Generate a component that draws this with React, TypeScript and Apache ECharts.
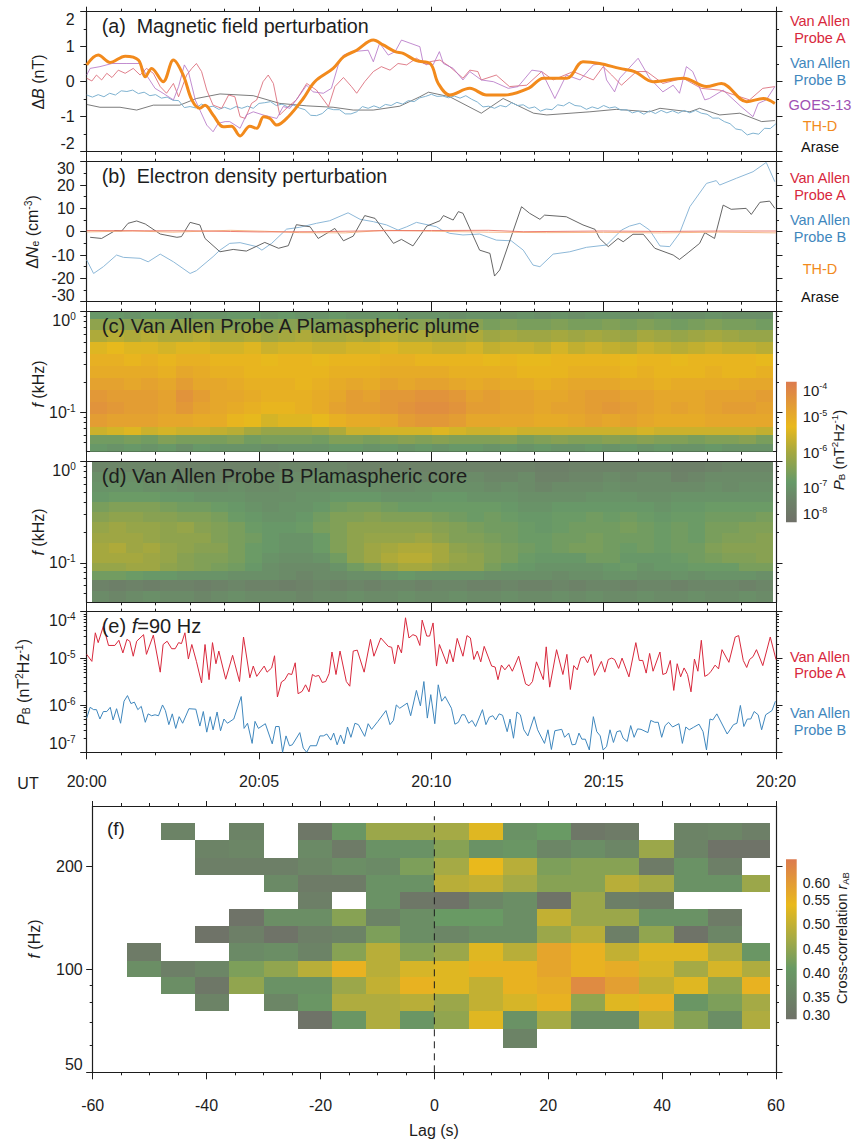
import React, { useEffect, useRef } from "react";
import * as echarts from "echarts";

const FONT = '"Liberation Sans", Arial, sans-serif';
const INK = "#1d1d1d";
const RED = "#d8283c";
const BLUE = "#3f87bd";
const PURPLE = "#a050b4";
const ORANGE = "#f28a1c";

// Panel (a): magnetic field perturbation [seconds after 20:00, nT]
const aRed = [[0,.1],[9,.02],[17,.19],[26,.05],[35,.24],[44,.12],[55,.33],[67,.24],[81,.38],[93,.19],[104,.38],[116,.24],[128,-.14],[139,-.33],[151,-.05],[160,-.43],[174,.19],[183,.38],[191,.52],[200,.29],[209,-.24],[220,-.67],[235,-.76],[247,-.38],[258,-.43],[267,-1],[276,-1.05],[287,-.62],[296,-.52],[307,0],[316,.19],[325,-.05],[336,-.95],[351,-.71],[365,-.52],[383,-.05],[400,-.24],[421,-.71],[432,-.14],[447,.12],[461,-.14],[470,-.33],[484,0],[499,.29],[513,.43],[528,.33],[542,.52],[557,.48],[574,.67],[592,.48],[597,.57],[615,.62],[632,.43],[655,.1],[667,.33],[681,.29],[687,.05],[713,.19],[736,-.14],[766,-.1],[792,.29],[812,.05],[847,.29],[882,.05],[899,.43],[914,.19],[931,-.1],[957,.29],[975,.29],[1003,-.05],[1038,.1],[1070,-.19],[1102,-.24],[1137,-.43],[1154,-.52],[1177,-.19],[1198,-.14]];
const aPurple = [[0,.19],[6,.38],[23,.43],[44,.52],[70,.52],[93,.52],[104,.19],[119,-.19],[133,-.33],[151,-.52],[160,-.14],[170,.48],[177,.29],[189,-.52],[197,-.81],[209,-1.24],[220,-1.43],[229,-1.19],[241,-1.14],[249,-1.14],[267,-1.33],[278,-.95],[290,-.86],[307,-.95],[331,-1.05],[342,-.71],[354,-.76],[371,-.38],[383,-.1],[394,-.29],[412,-.33],[426,-.19],[438,.48],[447,.76],[464,.86],[490,.9],[499,.57],[510,1.1],[525,.76],[537,.86],[548,1.19],[563,1.1],[580,1],[586,.52],[603,.48],[614,.86],[621,.52],[638,.38],[655,.05],[667,.29],[687,.05],[708,0],[734,-.19],[751,-.14],[775,.33],[792,.29],[815,-.48],[835,.19],[859,.05],[882,.48],[899,.52],[905,.05],[919,-.29],[928,.1],[960,.67],[980,.1],[1003,-.29],[1021,-.1],[1032,-.33],[1044,.43],[1055,.29],[1076,-.52],[1084,-.48],[1108,-.24],[1139,-.71],[1160,-1],[1169,-.62],[1183,-.52],[1198,-.14]];
const aBlack = [[0,-.65],[23,-.73],[58,-.73],[87,-.81],[116,-.67],[162,-.67],[191,-.48],[232,-.35],[290,-.4],[336,-.62],[383,-.69],[429,-.73],[464,-.81],[499,-.81],[545,-.7],[580,-.43],[595,-.3],[632,-.43],[687,-.9],[725,-.48],[778,-.9],[801,-.95],[876,-.86],[922,-.79],[980,-.86],[998,-.76],[1050,-.86],[1067,-.76],[1102,-.95],[1137,-.9],[1175,-1.14],[1198,-1.11]];
const aOrange = [[0,.48],[20,.76],[41,.55],[67,.73],[90,.62],[102,.14],[113,.38],[133,0],[151,.62],[168,.19],[183,-.52],[197,-.76],[206,-.67],[220,-.95],[238,-1.29],[252,-1.27],[267,-1.55],[284,-1.27],[296,-1.33],[308,-1],[319,-1.05],[331,-1.24],[351,-1],[377,-.48],[397,0],[429,.38],[447,.71],[470,.9],[499,1.19],[516,1.05],[537,.86],[551,.81],[574,.6],[598,.52],[612,-.05],[632,-.38],[667,-.19],[696,-.38],[728,-.38],[769,-.19],[795,.1],[836,.1],[864,.57],[893,.52],[928,.38],[954,.29],[986,0],[1039,.1],[1079,-.14],[1105,-.05],[1149,-.57],[1178,-.48],[1198,-.62]];
// One value every 10 s
const aBlueStep = 10;
const aBlue = [-.38,-.44,-.37,-.43,-.33,-.38,-.26,-.28,-.24,-.34,-.3,-.4,-.37,-.47,-.44,-.53,-.54,-.74,-.71,-.75,-.64,-.73,-.7,-.79,-.73,-.79,-.71,-.76,-.7,-.76,-.62,-.6,-.57,-.68,-.64,-.72,-.67,-.75,-.8,-.96,-.97,-.91,-.76,-.8,-.8,-.92,-.92,-.86,-.71,-.76,-.69,-.75,-.65,-.68,-.59,-.64,-.54,-.57,-.46,-.42,-.36,-.42,-.41,-.46,-.41,-.47,-.4,-.5,-.58,-.72,-.7,-.76,-.68,-.72,-.6,-.68,-.66,-.76,-.72,-.84,-.78,-.8,-.66,-.69,-.59,-.68,-.7,-.79,-.72,-.77,-.68,-.75,-.72,-.81,-.8,-.89,-.84,-.93,-.83,-.91,-.82,-.89,-.83,-.9,-.82,-.89,-.82,-.9,-.93,-1.04,-1.04,-1.14,-1.2,-1.35,-1.38,-1.52,-1.47,-1.5,-1.33,-1.34,-1.2];

// Panel (b): electron density perturbation [seconds, cm^-3]
const bBlue = [[0,-12.1],[12,-17.9],[29,-15],[52,-10],[64,-11],[93,-11.4],[107,-12.9],[128,-9.6],[151,-12.9],[180,-17.9],[191,-16.7],[220,-10.7],[232,-7.9],[249,-5],[267,-4.7],[296,-6.4],[305,-7.9],[322,-5],[348,1.1],[371,1.9],[400,3.6],[423,4.7],[455,8.1],[476,5.3],[499,4.3],[522,2.9],[542,.7],[557,2.1],[574,4],[609,2.1],[618,.7],[632,-.7],[655,-1.4],[684,-1],[713,-3.6],[739,-3.9],[760,-7.9],[777,-14.3],[789,-15],[812,-9.6],[841,-8.6],[870,-6.7],[905,-5.7],[931,.7],[945,2.4],[963,3.6],[980,.7],[998,-6.1],[1015,-6.4],[1032,-.7],[1050,10.7],[1079,20.7],[1096,21.9],[1102,20],[1131,22.9],[1160,25.7],[1183,29.7],[1198,21.4]];
const bBlack = [[6,-2.4],[26,-2.9],[49,.4],[61,.3],[72,3.6],[87,4.6],[102,3.3],[128,-1],[157,-2.4],[165,-2.1],[180,4],[197,2.9],[206,-2.9],[232,-8.6],[255,-7.6],[278,-8.3],[310,-4.6],[334,-7.1],[351,-6],[365,3],[389,2.1],[403,-2.9],[432,1.4],[447,-3.9],[464,-1.9],[484,6.9],[502,5.7],[534,-5],[548,-3.3],[568,-6.1],[592,2.4],[615,4.7],[621,6.9],[638,5],[647,8.6],[655,7.9],[684,-7.9],[702,-9.3],[710,-19],[719,-16.4],[757,10.7],[771,7.9],[789,5.3],[797,7.1],[835,6.4],[864,2.9],[885,1],[893,-2.9],[908,-6.4],[925,-2.9],[934,-4.3],[951,-1.1],[969,-1.1],[989,-7.1],[1021,-10],[1032,-11.9],[1047,-9],[1067,-5],[1076,-.4],[1093,-2.9],[1108,11.4],[1122,9.6],[1148,10],[1157,7.4],[1172,12.6],[1189,13.1],[1198,10]];
const bRed = [[0,.5],[100,.4],[180,.4],[250,.1],[300,-.1],[400,0],[500,.4],[600,.5],[700,.6],[760,0],[900,.3],[1000,.1],[1100,.3],[1200,.3]];
const bOrange = [[0,-.1],[80,.3],[150,-.2],[250,.6],[310,.2],[370,-.4],[450,-.5],[520,.6],[600,.2],[700,-.2],[800,-.4],[900,-.3],[1000,-.5],[1100,-.2],[1200,-.5]];

// Panel (e): f = 90 Hz power [seconds, log10 P]
const eRed = [[0,-4.91],[9,-5.06],[15,-4.45],[20,-4.66],[29,-4.31],[38,-4.72],[49,-4.72],[56,-4.61],[63,-4.88],[70,-4.59],[75,-4.63],[81,-4.95],[87,-4.63],[99,-4.49],[104,-4.91],[116,-4.5],[128,-5.29],[133,-4.7],[140,-4.63],[148,-4.79],[154,-4.79],[160,-4.66],[165,-4.68],[171,-4.45],[177,-5.01],[183,-4.7],[191,-5.06],[200,-5.52],[206,-4.7],[213,-5.45],[219,-4.66],[225,-5.11],[230,-4.84],[242,-5.44],[254,-4.93],[266,-5.49],[273,-4.54],[284,-5.41],[290,-5.16],[296,-5.38],[309,-5.16],[314,-5.29],[322,-5.2],[327,-4.94],[332,-5.82],[339,-5.5],[345,-5.45],[351,-5.32],[357,-5.34],[363,-5.09],[368,-5.75],[375,-5.7],[381,-5.56],[387,-5.71],[393,-5.34],[398,-5.38],[404,-5.36],[410,-5.51],[416,-5.49],[422,-5.32],[427,-4.86],[434,-5.34],[441,-4.84],[452,-5.49],[458,-5.59],[464,-4.84],[471,-4.82],[483,-5.29],[494,-4.59],[500,-4.95],[512,-4.56],[525,-4.74],[531,-4.76],[536,-5.11],[542,-4.71],[548,-4.88],[555,-4.13],[561,-4.56],[568,-4.49],[574,-4.52],[580,-4.72],[584,-4.18],[592,-4.52],[597,-4.52],[603,-4.24],[609,-5.16],[614,-4.7],[627,-5.11],[632,-4.81],[638,-5.07],[645,-4.57],[655,-4.95],[662,-4.51],[668,-4.56],[674,-5.02],[680,-4.84],[686,-5.07],[692,-4.74],[705,-5.16],[711,-5.18],[716,-5.45],[722,-5.14],[728,-5.24],[735,-5.13],[741,-5.27],[752,-4.95],[764,-5.54],[770,-5.58],[776,-5.49],[783,-5.07],[795,-5.45],[800,-4.75],[806,-5.61],[818,-4.81],[829,-5.34],[836,-4.91],[842,-5.66],[848,-5.15],[854,-5.24],[860,-4.99],[866,-4.96],[872,-5.09],[878,-4.91],[884,-5.36],[896,-5.06],[902,-5.29],[908,-5.02],[914,-4.99],[919,-5.02],[926,-5.21],[932,-4.99],[944,-5.39],[956,-4.66],[962,-5.04],[968,-5.04],[974,-5.31],[980,-4.89],[986,-5.27],[998,-4.86],[1003,-5.34],[1009,-5.31],[1016,-5.04],[1022,-5.68],[1028,-5.11],[1034,-5.39],[1040,-5.2],[1046,-5.34],[1052,-5.71],[1058,-5.01],[1064,-5.27],[1070,-4.61],[1076,-5.38],[1082,-5.34],[1087,-5.27],[1094,-5.14],[1100,-5.22],[1106,-4.81],[1118,-5.08],[1129,-4.54],[1135,-4.51],[1143,-5.04],[1149,-5.19],[1154,-5.02],[1160,-4.96],[1166,-4.81],[1177,-5.15],[1190,-4.54],[1200,-5.02]];
const eBlue = [[0,-6.27],[6,-6.04],[12,-6.09],[17,-6.09],[23,-6.29],[29,-6.13],[35,-6.13],[41,-6.04],[46,-6.31],[52,-6.07],[59,-6.38],[65,-5.91],[71,-5.79],[77,-5.96],[83,-5.93],[89,-6.09],[95,-6.02],[102,-6.36],[107,-6.18],[113,-6.22],[119,-6.2],[125,-6.22],[132,-5.99],[137,-6.11],[143,-6.41],[149,-6.18],[155,-6.49],[161,-6.24],[167,-6.38],[178,-6.07],[190,-6.08],[197,-6.44],[203,-6.13],[209,-6.57],[215,-6.24],[220,-6.52],[227,-6.14],[233,-6.54],[239,-6.29],[245,-6.38],[256,-6.29],[269,-5.81],[274,-6.49],[280,-6.38],[288,-6.81],[293,-6.34],[299,-6.49],[311,-6.39],[323,-6.82],[329,-6.45],[335,-6.45],[341,-7],[347,-6.65],[353,-6.86],[358,-6.84],[371,-6.58],[377,-6.91],[383,-7],[389,-6.86],[400,-6.86],[406,-6.65],[412,-6.65],[418,-6.61],[425,-6.74],[430,-6.59],[436,-6.84],[442,-6.63],[448,-6.82],[454,-6.46],[460,-6.68],[467,-6.38],[473,-6.41],[484,-6.66],[490,-6.39],[496,-6.51],[507,-6.34],[521,-6.11],[528,-6.41],[534,-6.32],[539,-5.99],[545,-6.06],[558,-5.95],[564,-6.22],[574,-5.68],[581,-6.01],[587,-5.49],[593,-6.27],[599,-5.77],[606,-6.39],[612,-5.56],[618,-5.91],[624,-5.81],[635,-6.06],[641,-6.4],[647,-6.36],[653,-6.2],[658,-6.2],[665,-6.38],[671,-6.32],[677,-6.45],[689,-6.09],[695,-6.41],[701,-6.25],[707,-6.22],[712,-6.31],[718,-6.18],[724,-6.21],[732,-6.56],[737,-6.29],[743,-6.7],[749,-6.14],[755,-6.2],[761,-6.52],[768,-6.65],[779,-6.24],[785,-6.52],[797,-6.81],[803,-6.52],[809,-6.94],[815,-6.54],[827,-6.51],[832,-6.68],[839,-6.59],[845,-6.84],[851,-6.83],[857,-6.59],[862,-6.72],[868,-6.72],[875,-6.95],[882,-6.24],[888,-6.56],[894,-6.65],[899,-6.95],[905,-6.88],[911,-6.52],[917,-6.79],[923,-6.56],[929,-6.54],[934,-6.7],[941,-6.77],[947,-6.43],[953,-6.68],[959,-6.5],[965,-6.51],[977,-6.58],[982,-6.32],[989,-6.36],[995,-6.36],[1001,-6.68],[1007,-6.43],[1013,-6.36],[1020,-6.46],[1031,-6.39],[1037,-6.81],[1043,-6.46],[1049,-6.52],[1056,-6.47],[1066,-6.4],[1073,-6.56],[1079,-6.95],[1085,-6.29],[1090,-6.31],[1097,-6.18],[1115,-6.61],[1126,-6.41],[1132,-6.38],[1138,-6],[1144,-6.45],[1150,-6.29],[1156,-6.29],[1162,-6.13],[1169,-6.2],[1175,-6.52],[1182,-6.2],[1193,-6.11],[1199,-5.91]];

// Panel (c): spectrogram of log10 P, top row first; log10 f (kHz) row edges
const cFreqEdges = [0,-.07,-.18,-.3,-.42,-.54,-.66,-.78,-.9,-1.02,-1.14,-1.226,-1.31,-1.39];
const cStart = 6;
const cStep = 29.73;
const cRows = [
[-6.9,-6.9,-7,-6.9,-6.9,-7,-6.9,-7,-6.9,-6.9,-7,-6.9,-7,-7,-6.9,-7,-7,-6.9,-7,-7,-7,-7.1,-7,-7,-7.1,-7,-7.1,-7,-7.1,-7,-7,-7.1,-7.1,-7,-7.1,-7.1,-7,-7.1,-7.1,-7.1],
[-6.3,-6.3,-6.4,-6.3,-6.4,-6.3,-6.4,-6.4,-6.5,-6.4,-6.5,-6.4,-6.4,-6.5,-6.4,-6.5,-6.4,-6.3,-6.4,-6.4,-6.5,-6.5,-6.4,-6.6,-6.5,-6.6,-6.6,-6.5,-6.6,-6.6,-6.5,-6.6,-6.5,-6.6,-6.7,-6.6,-6.5,-6.6,-6.6,-6.7],
[-5.9,-5.8,-5.9,-5.8,-5.9,-5.9,-5.8,-6,-6,-5.9,-6.1,-6,-5.9,-6,-6,-5.9,-6,-5.8,-5.9,-5.9,-6,-6,-5.9,-6.1,-6,-6.1,-6.1,-6,-6.1,-6,-6.1,-6.2,-6,-6.1,-6.2,-6.1,-6,-6.1,-6.2,-6.2],
[-5.4,-5.3,-5.4,-5.4,-5.5,-5.4,-5.4,-5.5,-5.5,-5.4,-5.6,-5.5,-5.5,-5.6,-5.6,-5.5,-5.5,-5.4,-5.5,-5.5,-5.6,-5.6,-5.5,-5.7,-5.6,-5.6,-5.7,-5.5,-5.7,-5.6,-5.7,-5.8,-5.6,-5.7,-5.8,-5.7,-5.6,-5.7,-5.7,-5.8],
[-5.1,-5.1,-5.2,-5.1,-5.2,-5.1,-5.1,-5.2,-5.2,-5.2,-5.3,-5.2,-5.2,-5.3,-5.2,-5.2,-5.2,-5.1,-5.1,-5.2,-5.2,-5.2,-5.2,-5.3,-5.2,-5.3,-5.3,-5.2,-5.2,-5.2,-5.2,-5.3,-5.2,-5.2,-5.3,-5.2,-5.2,-5.2,-5.2,-5.3],
[-5,-5,-5,-5,-5.1,-4.9,-5,-5.1,-5.1,-5.2,-5.2,-5.2,-5.2,-5.2,-5.1,-5.1,-5.1,-5,-5,-5,-5,-5.1,-5.1,-5.1,-5.1,-5.2,-5.2,-5.2,-5.1,-5.1,-5.1,-5.2,-5.1,-5.2,-5.2,-5.2,-5.1,-5.2,-5.2,-5.1],
[-4.8,-4.8,-4.9,-4.8,-4.9,-4.7,-4.9,-4.9,-5,-5.1,-5.1,-5.1,-5.2,-5.1,-5,-4.9,-5,-4.8,-4.9,-4.8,-4.8,-4.9,-5,-4.9,-5,-5,-5.1,-5,-4.9,-4.9,-4.9,-5,-5,-5.1,-5,-5,-5,-5,-4.9,-4.9],
[-4.6,-4.7,-4.7,-4.7,-4.8,-4.5,-4.7,-4.9,-4.9,-5,-5.1,-5.1,-5.1,-5,-4.9,-4.7,-4.8,-4.6,-4.6,-4.5,-4.5,-4.6,-4.8,-4.7,-4.8,-4.8,-4.9,-4.9,-4.8,-4.7,-4.7,-4.8,-4.8,-4.9,-4.9,-4.9,-4.8,-4.8,-4.8,-4.7],
[-4.5,-4.6,-4.7,-4.7,-4.8,-4.6,-4.8,-4.9,-5,-5.1,-5.2,-5.2,-5.1,-5,-4.8,-4.7,-4.7,-4.6,-4.5,-4.4,-4.4,-4.5,-4.7,-4.7,-4.8,-4.8,-4.9,-4.8,-4.8,-4.7,-4.6,-4.7,-4.8,-4.9,-4.8,-4.9,-4.8,-4.7,-4.7,-4.8],
[-4.7,-4.8,-4.8,-4.8,-4.9,-4.9,-5,-5,-5.2,-5.3,-5.5,-5.4,-5.4,-5.3,-5.1,-5,-5,-4.9,-4.7,-4.6,-4.6,-4.7,-4.9,-4.9,-4.9,-4.9,-5,-5,-4.9,-4.8,-4.9,-4.8,-4.9,-5,-5,-5,-4.9,-4.9,-4.9,-4.9],
[-5.6,-5.5,-5.4,-5.6,-5.5,-5.6,-5.6,-5.7,-5.8,-6,-6.2,-6.2,-6.2,-6.1,-5.9,-5.6,-5.6,-5.5,-5.5,-5.5,-5.4,-5.5,-5.6,-5.6,-5.5,-5.6,-5.6,-5.6,-5.6,-5.6,-5.6,-5.6,-5.5,-5.6,-5.6,-5.6,-5.6,-5.6,-5.6,-5.7],
[-6.7,-6.7,-6.6,-6.7,-6.5,-6.6,-6.6,-6.6,-6.5,-6.7,-6.6,-6.6,-6.6,-6.7,-6.5,-6.5,-6.6,-6.5,-6.4,-6.5,-6.4,-6.5,-6.5,-6.5,-6.4,-6.6,-6.5,-6.4,-6.5,-6.5,-6.4,-6.5,-6.4,-6.5,-6.5,-6.6,-6.5,-6.5,-6.4,-6.6],
[-6.9,-7,-6.9,-7,-6.9,-7.1,-6.9,-7,-7,-7,-7.1,-7,-7,-7,-6.9,-6.9,-7,-6.9,-7,-6.9,-7,-6.9,-6.9,-7,-6.9,-7,-6.9,-7,-7,-6.9,-7,-6.9,-7,-6.9,-7,-7,-6.9,-7,-7,-7],
];

// Panel (d): spectrogram of log10 P
const dFreqEdges = [0,-.1,-.2,-.3,-.4,-.5,-.6,-.7,-.8,-.9,-1,-1.077,-1.17,-1.28,-1.39];
const dStart = 8.7;
const dStep = 29.66;
const dRows = [
[-7.3,-7.3,-7.3,-7.3,-7.3,-7.4,-7.4,-7.4,-7.4,-7.4,-7.4,-7.3,-7.3,-7.3,-7.3,-7.4,-7.4,-7.4,-7.4,-7.4,-7.4,-7.4,-7.4,-7.4,-7.4,-7.4,-7.5,-7.5,-7.4,-7.4,-7.4,-7.4,-7.4,-7.4,-7.5,-7.5,-7.4,-7.3,-7.3,-7.3],
[-7.1,-7.1,-7.1,-7.2,-7.2,-7.3,-7.3,-7.3,-7.3,-7.2,-7.2,-7.2,-7.2,-7.1,-7.1,-7.2,-7.2,-7.2,-7.2,-7.3,-7.3,-7.2,-7.2,-7.3,-7.3,-7.2,-7.4,-7.4,-7.3,-7.3,-7.2,-7.3,-7.2,-7.2,-7.4,-7.3,-7.2,-7.2,-7.2,-7.2],
[-7,-7,-7,-7.1,-7.1,-7.2,-7.2,-7.2,-7.1,-7.2,-7.2,-7.1,-7.1,-7.1,-7.1,-7.1,-7.1,-7.2,-7.2,-7.1,-7.1,-7.1,-7.1,-7.2,-7.1,-7.2,-7.3,-7.2,-7.2,-7.2,-7.1,-7.2,-7.2,-7.2,-7.2,-7.2,-7.1,-7.2,-7.1,-7.1],
[-6.9,-6.8,-6.8,-6.8,-6.9,-6.9,-7,-7,-7,-7.1,-7.1,-7.1,-7,-7,-6.9,-6.9,-6.9,-7,-7,-7,-6.9,-6.9,-7,-7,-7,-7.1,-7.1,-7.1,-7.1,-7,-7,-7,-7.1,-7.1,-7,-7,-7,-7,-7,-7],
[-6.6,-6.5,-6.5,-6.5,-6.6,-6.7,-6.7,-6.8,-6.9,-7,-7.1,-7,-7,-6.9,-6.7,-6.6,-6.6,-6.7,-6.8,-6.8,-6.8,-6.8,-6.8,-6.8,-6.9,-7,-7,-6.9,-6.9,-6.9,-6.9,-6.9,-6.9,-7,-6.9,-6.9,-6.8,-6.8,-6.8,-6.8],
[-6.4,-6.3,-6.3,-6.4,-6.4,-6.5,-6.5,-6.6,-6.8,-6.9,-7,-7,-6.9,-6.7,-6.5,-6.5,-6.4,-6.5,-6.5,-6.5,-6.6,-6.7,-6.8,-6.7,-6.8,-6.9,-6.9,-6.8,-6.8,-6.7,-6.8,-6.7,-6.8,-6.9,-6.8,-6.8,-6.7,-6.7,-6.7,-6.6],
[-6.2,-6.1,-6.2,-6.2,-6.3,-6.2,-6.4,-6.5,-6.6,-6.8,-6.9,-6.9,-6.8,-6.6,-6.5,-6.3,-6.3,-6.3,-6.3,-6.3,-6.4,-6.5,-6.6,-6.7,-6.7,-6.8,-6.9,-6.8,-6.7,-6.7,-6.7,-6.6,-6.7,-6.8,-6.7,-6.8,-6.6,-6.6,-6.5,-6.5],
[-6.1,-6.1,-6.1,-6.2,-6.3,-6.3,-6.3,-6.5,-6.6,-6.7,-6.9,-7,-7,-6.8,-6.5,-6.3,-6.2,-6.2,-6.2,-6.1,-6.3,-6.5,-6.5,-6.6,-6.7,-6.8,-6.8,-6.7,-6.7,-6.6,-6.7,-6.7,-6.7,-6.8,-6.7,-6.8,-6.6,-6.5,-6.5,-6.4],
[-6,-5.9,-6.1,-6,-6.2,-6.3,-6.4,-6.4,-6.6,-6.8,-6.9,-7,-7,-6.8,-6.5,-6.3,-6.1,-6,-5.9,-5.9,-6,-6.3,-6.4,-6.5,-6.6,-6.7,-6.8,-6.7,-6.6,-6.6,-6.7,-6.8,-6.7,-6.8,-6.7,-6.7,-6.5,-6.4,-6.4,-6.4],
[-6,-6,-6,-6.1,-6.2,-6.4,-6.5,-6.5,-6.6,-6.8,-7,-7.1,-7.1,-7,-6.7,-6.3,-6.1,-5.9,-5.8,-5.8,-6,-6.2,-6.3,-6.5,-6.6,-6.8,-6.9,-6.9,-6.9,-6.7,-6.7,-6.9,-6.9,-6.9,-6.8,-6.7,-6.6,-6.5,-6.5,-6.4],
[-6.2,-6.2,-6.1,-6.1,-6.3,-6.4,-6.5,-6.6,-6.7,-6.9,-7.1,-7.2,-7.2,-7.2,-7,-6.7,-6.5,-6.2,-6,-6,-6.2,-6.3,-6.3,-6.6,-6.8,-6.9,-7,-7,-7,-7,-6.9,-6.8,-7,-6.9,-6.9,-6.8,-6.8,-6.8,-6.6,-6.6],
[-6.7,-6.7,-6.8,-6.9,-6.9,-7,-7,-7,-7.1,-7.1,-7.1,-7.2,-7.3,-7.2,-7.2,-7.1,-7.1,-7,-6.9,-7,-7,-7,-7,-7.1,-7.1,-7.1,-7.1,-7.2,-7.1,-7.1,-7,-7,-7.1,-7.1,-7,-7.1,-7,-7,-7,-7.1],
[-7.4,-7.5,-7.4,-7.5,-7.4,-7.4,-7.5,-7.4,-7.3,-7.4,-7.4,-7.5,-7.4,-7.3,-7.4,-7.3,-7.4,-7.3,-7.3,-7.4,-7.3,-7.3,-7.4,-7.4,-7.3,-7.4,-7.4,-7.3,-7.4,-7.3,-7.3,-7.4,-7.3,-7.3,-7.4,-7.3,-7.3,-7.3,-7.4,-7.3],
[-7.2,-7.3,-7.2,-7.1,-7.2,-7.2,-7.3,-7.2,-7.1,-7.2,-7.2,-7.2,-7.3,-7.2,-7.2,-7.1,-7.2,-7.2,-7.1,-7.2,-7.2,-7.1,-7.2,-7.2,-7.1,-7.2,-7.2,-7.1,-7.2,-7.1,-7.2,-7.2,-7.1,-7.2,-7.2,-7.1,-7.2,-7.2,-7.1,-7.2],
];

// Panel (f): cross-correlation, top row first
const fLagEdges = [-54,-48,-42,-36,-30,-24,-18,-12,-6,0,6,12,18,24,30,36,42,48,54,59];
const fFreqEdges = [268,238,212,189,168.5,150,133.6,119,106,94.7,84.6,75.6,67,59];
const N = null;
const fRows = [
[N,.35,N,.35,N,.32,.4,.46,.46,.47,.53,.39,.41,.32,.33,N,.35,.36,.34],
[N,N,.35,.36,N,.37,.33,.39,.39,.44,.39,.4,.36,.38,.36,.46,.35,.31,.31],
[N,N,.34,.34,.34,.36,.38,.37,.43,.47,.54,.49,.43,.44,.44,.33,.39,.34,N],
[N,N,N,N,.37,.33,.33,.39,.39,.49,.5,.47,.44,.44,.49,.47,.39,.39,.46],
[N,N,N,N,N,.34,N,.39,.32,.31,.36,.38,.31,.46,.34,.33,N,N,N],
[N,N,N,.31,.38,.38,.44,.35,.38,.41,.41,.38,.5,.46,.46,.39,.39,.33,N],
[N,N,.31,.34,.31,.34,.35,.43,.38,.36,.38,.38,.46,.49,.34,.45,.31,.36,N],
[.33,N,N,.37,.38,.35,.44,.49,.44,.46,.53,.49,.57,.55,.5,.53,.53,.48,.4],
[.38,.34,.36,.43,.45,.49,.55,.49,.52,.53,.55,.55,.57,.55,.56,.52,.47,.52,.48],
[N,.38,.32,.45,.39,.39,.46,.5,.55,.53,.5,.55,.56,.61,.58,.5,.53,.45,.55],
[N,N,.35,N,.36,.4,.48,.48,.49,.46,.5,.52,.55,.45,.53,.55,.4,.43,.47],
[N,N,N,N,N,.31,.4,.48,.4,.45,.53,.39,.47,.38,.38,.5,.44,.38,.48],
[N,N,N,N,N,N,N,N,N,N,N,.35,N,N,N,N,N,N,N],
];

// Colour scales [value, r, g, b]
const powerStops = [[-8,111,112,104],[-7.4,109,130,104],[-6.85,103,154,104],[-6,165,168,63],[-5.28,233,185,28],[-4,220,123,79]];
const corrStops = [[.305,111,113,104],[.41,105,154,100],[.47,165,170,69],[.54,233,185,28],[.634,220,123,79]];
const powerTicks = [-8,-7,-6,-5,-4];
const corrTicks = [.3,.35,.4,.45,.5,.55,.6];

const colorOf = (stops: number[][], v: number) => {
  if (v <= stops[0][0]) return `rgb(${stops[0].slice(1).join(",")})`;
  for (let i = 1; i < stops.length; i++) {
    if (v <= stops[i][0]) {
      const a = stops[i - 1], b = stops[i], k = (v - a[0]) / (b[0] - a[0]);
      return `rgb(${[1, 2, 3].map((c) => Math.round(a[c] + (b[c] - a[c]) * k)).join(",")})`;
    }
  }
  return `rgb(${stops[stops.length - 1].slice(1).join(",")})`;
};

const cellRender = (stops: number[][]) => (_: any, api: any) => {
  const a = api.coord([api.value(0), api.value(3)]);
  const b = api.coord([api.value(1), api.value(2)]);
  const x = Math.round(a[0]), y = Math.round(a[1]);
  return {
    type: "rect",
    shape: { x, y, width: Math.round(b[0]) - x, height: Math.round(b[1]) - y },
    style: { fill: colorOf(stops, api.value(4)) },
  };
};

const LEFT = 86.7, RIGHT = 776;
const tickLine = { color: INK, width: 1 };
const grids: any[] = [], xAxes: any[] = [], yAxes: any[] = [], series: any[] = [];

const minorTicks = (list: number[]) => list.map(Math.log10);
const decadeMinor = (exps: number[]) => exps.flatMap((e) => [2, 3, 4, 5, 6, 7, 8, 9].map((m) => e + Math.log10(m)));
const decadeLabel = (v: number) => `{b|10}{s|${Math.round(v)}}`;
const decadeRich = {
  b: { fontSize: 16, fontFamily: FONT, color: INK },
  s: { fontSize: 10, fontFamily: FONT, color: INK, padding: [0, 0, 8, 0] },
};

function addGrid(left: number, right: number, top: number, bottom: number) {
  grids.push({ left, top, width: right - left, height: bottom - top, containLabel: false, show: false });
  return grids.length - 1;
}
function addX(gridIndex: number, position: string, cfg: any) {
  xAxes.push({
    type: "value", gridIndex, position, min: cfg.min, max: cfg.max, interval: cfg.interval,
    axisLine: { show: true, onZero: false, lineStyle: { color: INK, width: 1.2 } },
    axisTick: { show: true, length: position === "bottom" ? 7 : 5, lineStyle: tickLine },
    minorTick: { show: true, splitNumber: cfg.split, length: 3, lineStyle: tickLine },
    splitLine: { show: false },
    axisLabel: cfg.label
      ? { show: true, margin: cfg.margin, fontSize: 16, fontFamily: FONT, color: INK, formatter: cfg.label, showMinLabel: true, showMaxLabel: true }
      : { show: false },
  });
  return xAxes.length - 1;
}
function addY(gridIndex: number, position: string, cfg: any) {
  yAxes.push({
    type: "value", gridIndex, position, min: cfg.min, max: cfg.max, interval: cfg.interval,
    axisLine: { show: cfg.line !== false, onZero: false, lineStyle: { color: INK, width: 1.2 } },
    axisTick: { show: true, length: cfg.tick ?? 6.5, lineStyle: tickLine, customValues: cfg.values },
    minorTick: cfg.split ? { show: true, splitNumber: cfg.split, length: 3, lineStyle: tickLine } : { show: false },
    splitLine: { show: false },
    axisLabel: cfg.label
      ? {
          show: true, margin: cfg.margin, fontSize: 16, fontFamily: FONT, color: INK, formatter: cfg.label,
          customValues: cfg.values, rich: decadeRich, lineHeight: cfg.lineHeight,
          verticalAlignMaxLabel: cfg.alignMax, verticalAlignMinLabel: cfg.alignMin,
          showMinLabel: true, showMaxLabel: true,
        }
      : { show: false },
  });
  return yAxes.length - 1;
}

const timeLabel = (v: number) => `20:${String(v / 60).padStart(2, "0")}`;

function timePanel(top: number, bottom: number, y: any, minor?: number[], showTime?: boolean) {
  const g = addGrid(LEFT, RIGHT, top, bottom);
  const time = { min: 0, max: 1200, interval: 300, split: 5 };
  const x0 = addX(g, "bottom", { ...time, label: showTime ? timeLabel : undefined, margin: 21 });
  addX(g, "top", time);
  const y0 = addY(g, "left", { ...y });
  addY(g, "right", { ...y, label: undefined });
  if (minor) {
    addY(g, "left", { min: y.min, max: y.max, values: minor, tick: 3, line: false });
    addY(g, "right", { min: y.min, max: y.max, values: minor, tick: 3, line: false });
  }
  return { x: x0, y: y0 };
}

const line = (ax: any, data: any[], color: string, width: number, z = 3, smooth: number | boolean = false) =>
  series.push({
    type: "line", xAxisIndex: ax.x, yAxisIndex: ax.y, data, showSymbol: false, symbol: "none", z, smooth,
    lineStyle: { color, width }, silent: true, clip: true,
  });

// (a)
const axA = timePanel(11.7, 151.7, { min: -2, max: 2, interval: 1, split: 2, label: (v: number) => String(v), margin: 12, alignMax: "top", alignMin: "bottom" });
line(axA, aBlack, "#444", 0.7);
line(axA, aBlue.map((v, i) => [i * aBlueStep, v]), "#7fb2d0", 1);
line(axA, aRed, "#d8606f", 0.8);
line(axA, aPurple, "#b270c4", 0.8);
line(axA, aOrange, ORANGE, 3, 4, 0.35);

// (b)
const axB = timePanel(161.7, 301.7, { min: -30, max: 30, interval: 10, split: 2, label: (v: number) => String(v), margin: 12, alignMax: "top", alignMin: "bottom", lineHeight: 13 });
line(axB, bBlue, "#8db8d8", 1);
line(axB, bBlack, "#555", 0.9);
line(axB, bOrange, "#f6b98a", 1);
line(axB, bRed, "#e8604f", 0.8);

// (c), (d)
function spectro(top: number, bottom: number, rows: number[][], edges: number[], start: number, step: number, low: number) {
  const ax = timePanel(top, bottom, { min: low, max: 0, values: [-1, 0], label: decadeLabel, margin: 11, alignMax: "top" }, decadeMinor([-1]).concat([-2 + Math.log10(5), -2 + Math.log10(6), -2 + Math.log10(7), -2 + Math.log10(8), -2 + Math.log10(9)]));
  const data: number[][] = [];
  rows.forEach((row, r) => row.forEach((v, c) => data.push([start + c * step, start + (c + 1) * step, edges[r + 1], edges[r], v])));
  series.push({
    type: "custom", xAxisIndex: ax.x, yAxisIndex: ax.y, data, renderItem: cellRender(powerStops),
    encode: { x: [0, 1], y: [2, 3] }, silent: true, clip: true, z: 1,
  });
}
spectro(311.7, 451.7, cRows, cFreqEdges, cStart, cStep, -1.39);
spectro(461.7, 602.3, dRows, dFreqEdges, dStart, dStep, -1.39);

// (e)
const axE = timePanel(611.7, 752.3, { min: -7, max: -4, values: [-7, -6, -5, -4], label: decadeLabel, margin: 11, alignMax: "top", alignMin: "bottom" }, decadeMinor([-7, -6, -5]), true);
line(axE, eRed, RED, 1);
line(axE, eBlue, BLUE, 1);

// (f)
{
  const g = addGrid(92.7, RIGHT, 806, 1072.3);
  const lag = { min: -60, max: 60, interval: 20, split: 4 };
  const x0 = addX(g, "bottom", { ...lag, label: (v: number) => String(v), margin: 25 });
  addX(g, "top", lag);
  const low = Math.log10(50), high = Math.log10(300);
  const major = minorTicks([50, 100, 200]);
  const minor = minorTicks([60, 70, 80, 90]);
  const y0 = addY(g, "left", { min: low, max: high, values: major, label: (v: number) => String(Math.round(10 ** v)), margin: 10, alignMin: "bottom" });
  addY(g, "right", { min: low, max: high, values: major });
  addY(g, "left", { min: low, max: high, values: minor, tick: 3, line: false });
  addY(g, "right", { min: low, max: high, values: minor, tick: 3, line: false });
  const data: number[][] = [];
  fRows.forEach((row, r) => row.forEach((v, c) => {
    if (v !== null) data.push([fLagEdges[c], fLagEdges[c + 1], Math.log10(fFreqEdges[r + 1]), Math.log10(fFreqEdges[r]), v]);
  }));
  series.push({
    type: "custom", xAxisIndex: x0, yAxisIndex: y0, data, renderItem: cellRender(corrStops),
    encode: { x: [0, 1], y: [2, 3] }, silent: true, clip: true, z: 1,
  });
  series.push({
    type: "line", xAxisIndex: x0, yAxisIndex: y0, data: [[0, low], [0, high - 0.03]], showSymbol: false, symbol: "none",
    lineStyle: { color: INK, width: 1, type: [7, 5] }, silent: true, z: 3,
  });
}

// Colour bars
function colorBar(top: number, bottom: number, stops: number[][], min: number, max: number, ticks: number[], label: any, fontSize: number) {
  const g = addGrid(786, 796.7, top, bottom);
  xAxes.push({ type: "value", gridIndex: g, min: 0, max: 1, show: false });
  const x0 = xAxes.length - 1;
  yAxes.push({
    type: "value", gridIndex: g, position: "right", min, max, axisLine: { show: false }, axisTick: { show: false }, splitLine: { show: false },
    axisLabel: {
      show: true, margin: 6, fontSize, fontFamily: FONT, color: INK, formatter: label, customValues: ticks,
      rich: { b: { fontSize: 15, fontFamily: FONT, color: INK }, s: { fontSize: 9, fontFamily: FONT, color: INK, padding: [0, 0, 8, 0] } },
      verticalAlignMaxLabel: "top", verticalAlignMinLabel: "bottom", showMinLabel: true, showMaxLabel: true,
    },
  });
  const y0 = yAxes.length - 1;
  const lo = stops[0][0], hi = stops[stops.length - 1][0];
  const grad = new echarts.graphic.LinearGradient(0, 1, 0, 0, stops.map((s) => ({ offset: (s[0] - lo) / (hi - lo), color: `rgb(${s[1]},${s[2]},${s[3]})` })));
  series.push({
    type: "custom", xAxisIndex: x0, yAxisIndex: y0, data: [[0, 1, lo, hi]], silent: true, z: 1,
    encode: { x: [0, 1], y: [2, 3] },
    renderItem: (_: any, api: any) => {
      const a = api.coord([0, hi]);
      const b = api.coord([1, lo]);
      return { type: "rect", shape: { x: a[0], y: a[1], width: b[0] - a[0], height: b[1] - a[1] }, style: { fill: grad } };
    },
  });
}
colorBar(381.7, 522.3, powerStops, -8, -4, powerTicks, decadeLabel, 15);
colorBar(859.3, 1021.8, corrStops, 0.3, 0.634, corrTicks, (v: number) => v.toFixed(2), 14);

// Texts
const base = { fontFamily: FONT, fill: INK };
const text = (x: number, y: number, t: string, fontSize: number, extra: any = {}, props: any = {}) => ({
  type: "text", x, y, silent: true, z: 10, ...props,
  style: { ...base, text: t, fontSize, align: "left", verticalAlign: "middle", ...extra },
});
const side = (y: number, t: string, fill: string) => text(820, y, t, 14.5, { fill, align: "center" });
const vrich = (fs: number) => ({
  i: { fontStyle: "italic", fontSize: fs, fontFamily: FONT, fill: INK },
  n: { fontSize: fs, fontFamily: FONT, fill: INK },
  sub: { fontSize: fs * 0.65, fontFamily: FONT, fill: INK, padding: [7, 0, 0, 0] },
  sup: { fontSize: fs * 0.65, fontFamily: FONT, fill: INK, padding: [0, 0, 8, 0] },
});
const vtext = (x: number, y: number, t: string, fs = 16) =>
  text(x, y, t, fs, { align: "center", rich: vrich(fs) }, { rotation: Math.PI / 2 });

const graphics = [
  text(101.7, 26, "(a)  Magnetic field perturbation", 19.7),
  text(101.7, 176, "(b)  Electron density perturbation", 19.7),
  text(101.7, 326, "(c) Van Allen Probe A Plamaspheric plume", 20.2),
  text(101.7, 476, "(d) Van Allen Probe B Plamaspheric core", 20.2),
  text(101.7, 626, "(e) {i|f}{n|=90 Hz}", 20, { rich: { i: { fontStyle: "italic", fontSize: 20, fontFamily: FONT, fill: INK }, n: { fontSize: 20, fontFamily: FONT, fill: INK } } }),
  text(107, 828, "(f)", 19),
  side(21, "Van Allen", RED), side(38, "Probe A", RED),
  side(63, "Van Allen", BLUE), side(80, "Probe B", BLUE),
  side(105, "GOES-13", PURPLE), side(126, "TH-D", ORANGE), side(147, "Arase", "#111"),
  side(178, "Van Allen", RED), side(195, "Probe A", RED),
  side(220, "Van Allen", BLUE), side(237, "Probe B", BLUE),
  side(269, "TH-D", ORANGE), side(297, "Arase", "#111"),
  side(657, "Van Allen", RED), side(673, "Probe A", RED),
  side(713, "Van Allen", BLUE), side(730, "Probe B", BLUE),
  vtext(38, 82, "{n|Δ}{i|B}{n| (nT)}"),
  vtext(32, 232, "{n|Δ}{i|N}{sub|e}{n| (cm}{sup|-3}{n|)}"),
  vtext(38, 384, "{i|f}{n| (kHz)}"),
  vtext(38, 532, "{i|f}{n| (kHz)}"),
  vtext(23, 682, "{i|P}{sub|B}{n| (nT}{sup|2}{n|Hz}{sup|-1}{n|)}"),
  vtext(34, 939, "{i|f}{n| (Hz)}"),
  vtext(838, 450, "{i|P}{sub|B}{n| (nT}{sup|2}{n|Hz}{sup|-1}{n|)}", 15),
  vtext(842, 938, "{n|Cross-correlation }{i|r}{sub|AB}", 14.5),
  text(28, 783, "UT", 16, { align: "center" }),
  text(434, 1130, "Lag (s)", 16, { align: "center" }),
];

export default function App() {
  const ref = useRef<HTMLDivElement>(null);
  useEffect(() => {
    const chart = echarts.init(ref.current!, undefined, { renderer: "svg" });
    chart.setOption({
      animation: false,
      textStyle: { fontFamily: FONT },
      grid: grids,
      xAxis: xAxes,
      yAxis: yAxes,
      series,
      graphic: { elements: graphics },
    });
    return () => chart.dispose();
  }, []);
  return <div ref={ref} style={{ position: "absolute", left: 0, top: 0, width: 857, height: 1140, background: "#fff" }} />;
}
